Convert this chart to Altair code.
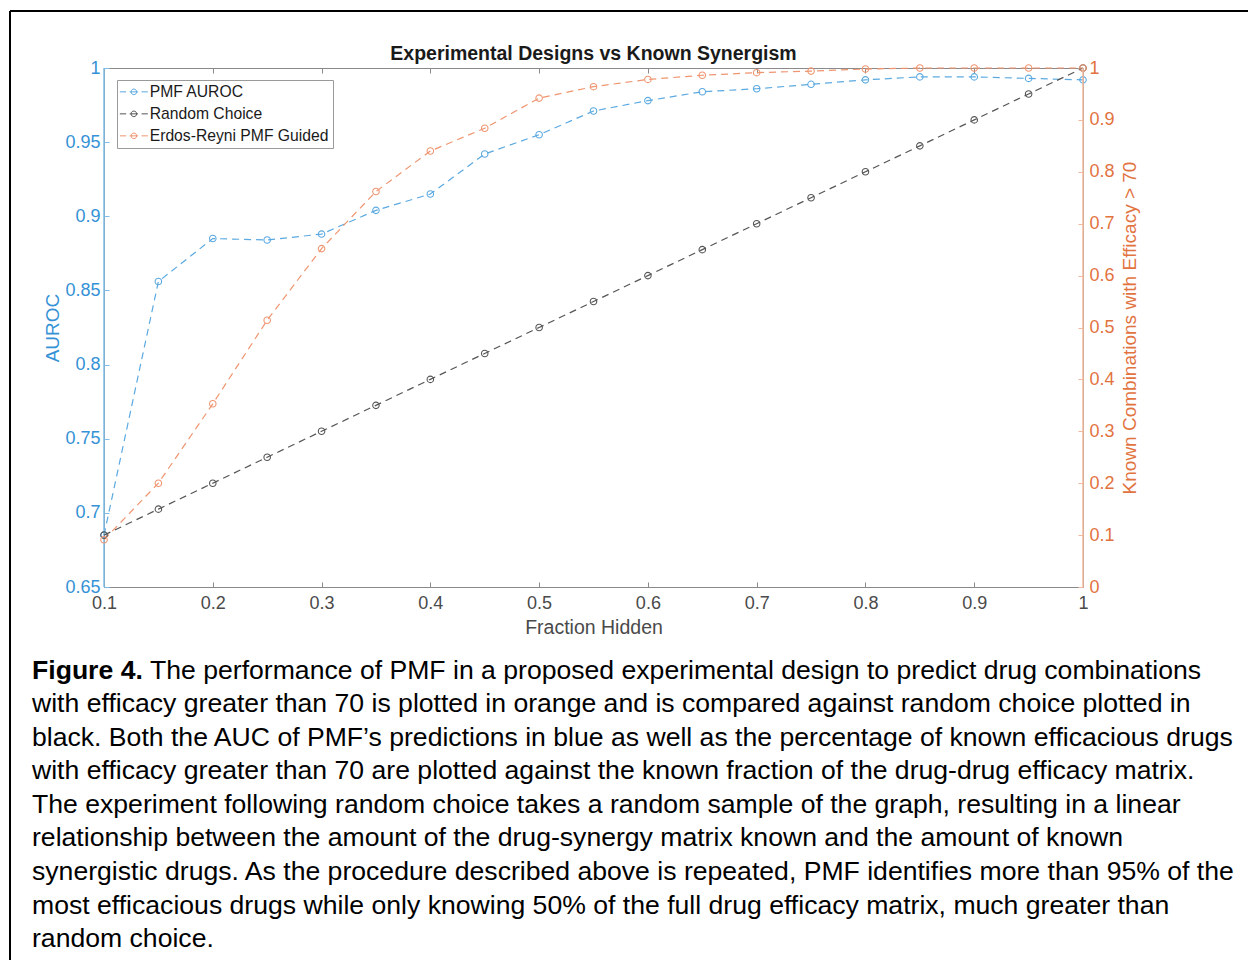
import altair as alt
import pandas as pd

# ---------------- data ----------------
fraction = [0.10, 0.15, 0.20, 0.25, 0.30, 0.35, 0.40, 0.45, 0.50, 0.55,
            0.60, 0.65, 0.70, 0.75, 0.80, 0.85, 0.90, 0.95, 1.00]
pmf_auroc = [0.685, 0.856, 0.885, 0.884, 0.888, 0.904, 0.915, 0.942, 0.955, 0.971,
             0.978, 0.984, 0.986, 0.989, 0.992, 0.994, 0.994, 0.993, 0.992]
random_choice = [0.100, 0.150, 0.200, 0.250, 0.300, 0.350, 0.400, 0.450, 0.500, 0.550,
                 0.600, 0.650, 0.700, 0.750, 0.800, 0.850, 0.900, 0.950, 1.000]
erdos_reyni = [0.091, 0.200, 0.353, 0.514, 0.652, 0.762, 0.840, 0.884, 0.942, 0.964,
               0.978, 0.986, 0.991, 0.994, 0.998, 1.000, 1.000, 1.000, 1.000]

series_names = ["PMF AUROC", "Random Choice", "Erdos-Reyni PMF Guided"]
series_colors = ["#5AA9E0", "#555555", "#EF9570"]

x_ticks = [0.1, 0.2, 0.3, 0.4, 0.5, 0.6, 0.7, 0.8, 0.9, 1.0]
left_ticks = [0.65, 0.7, 0.75, 0.8, 0.85, 0.9, 0.95, 1.0]
right_ticks = [0.0, 0.1, 0.2, 0.3, 0.4, 0.5, 0.6, 0.7, 0.8, 0.9, 1.0]

chart_title = "Experimental Designs vs Known Synergism"
x_title = "Fraction Hidden"
left_title = "AUROC"
right_title = "Known Combinations with Efficacy > 70"

caption_bold = "Figure 4."
caption_first = "The performance of PMF in a proposed experimental design to predict drug combinations"
caption_rest = [
    "with efficacy greater than 70 is plotted in orange and is compared against random choice plotted in",
    "black. Both the AUC of PMF\u2019s predictions in blue as well as the percentage of known efficacious drugs",
    "with efficacy greater than 70 are plotted against the known fraction of the drug-drug efficacy matrix.",
    "The experiment following random choice takes a random sample of the graph, resulting in a linear",
    "relationship between the amount of the drug-synergy matrix known and the amount of known",
    "synergistic drugs. As the procedure described above is repeated, PMF identifies more than 95% of the",
    "most efficacious drugs while only knowing 50% of the full drug efficacy matrix, much greater than",
    "random choice.",
]

# ---------------- styling ----------------
FONT = "Liberation Sans"
W, H = 979, 519
BLUE_TXT = "#3592D6"
BLUE_AX = "#7FBCE8"
ORANGE_TXT = "#E2733F"
ORANGE_AX = "#F5B89C"
GRAY_AX = "#8A8A8A"
CAP_SIZE = 26.6

left_df = pd.DataFrame({"fraction": fraction, "value": pmf_auroc, "series": series_names[0]})
right_df = pd.concat([
    pd.DataFrame({"fraction": fraction, "value": random_choice, "series": series_names[1]}),
    pd.DataFrame({"fraction": fraction, "value": erdos_reyni, "series": series_names[2]}),
], ignore_index=True)
one_row = pd.DataFrame({"k": [0]})

x_scale = alt.Scale(domain=[0.1, 1.0], nice=False, zero=False)

# dash - circle - dash legend glyph (extends beyond the nominal unit box)
legend_symbol = ("M-2,0L-1.1,0M-0.6,0L0.6,0M1.1,0L2,0"
                 "M0.4,0A0.4,0.4,0,1,1,-0.4,0A0.4,0.4,0,1,1,0.4,0Z")

color_enc = alt.Color(
    "series:N",
    scale=alt.Scale(domain=series_names, range=series_colors),
    legend=alt.Legend(
        title=None, orient="none", legendX=13, legendY=12, direction="vertical",
        symbolType=legend_symbol, symbolSize=196, symbolStrokeWidth=1,
        symbolOffset=5, symbolFillColor="transparent", labelFont=FONT,
        labelFontSize=15.7, labelColor="#1a1a1a", labelOffset=8, rowPadding=5,
        labelLimit=400, strokeColor="#9a9a9a", fillColor="white", padding=4,
    ),
)

x_bottom = alt.X(
    "fraction:Q", scale=x_scale,
    axis=alt.Axis(orient="bottom", values=x_ticks, format=".1~f", title=x_title,
                  offset=-5, tickSize=5, domain=False, grid=False,
                  tickColor=GRAY_AX, labelColor="#4a4a4a", titleColor="#4a4a4a",
                  labelFlush=False, labelPadding=7, titlePadding=6,
                  labelFontSize=18, titleFontSize=19.5, titleFontWeight="normal"),
)
x_top = alt.X(
    "fraction:Q", scale=x_scale,
    axis=alt.Axis(orient="top", values=x_ticks, labels=False, title=None,
                  offset=-5, tickSize=5, domain=False, grid=False, tickColor=GRAY_AX),
)

y_left = alt.Y(
    "value:Q", scale=alt.Scale(domain=[0.65, 1.0], nice=False, zero=False),
    axis=alt.Axis(orient="left", values=left_ticks, format=".2~f", title=left_title,
                  offset=-5, tickSize=5, domain=False, grid=False,
                  tickColor=BLUE_AX, labelColor=BLUE_TXT, titleColor=BLUE_TXT,
                  labelPadding=4, titlePadding=2, labelFontSize=18,
                  titleFontSize=19, titleFontWeight="normal"),
)
y_right = alt.Y(
    "value:Q", scale=alt.Scale(domain=[0.0, 1.0], nice=False, zero=False),
    axis=alt.Axis(orient="right", values=right_ticks, format=".1~f", title=right_title,
                  offset=-5, tickSize=5, domain=False, grid=False,
                  tickColor=ORANGE_AX, labelColor=ORANGE_TXT, titleColor=ORANGE_TXT,
                  labelPadding=6, titlePadding=6, labelFontSize=18,
                  titleFontSize=19, titleFontWeight="normal",
                  titleAngle=270, titleBaseline="top"),
)

line_kw = dict(strokeDash=[7, 5], strokeWidth=1.2)
pt_kw = dict(shape="circle", filled=False, size=42, strokeWidth=1.1, opacity=1)

left_base = alt.Chart(left_df)
left_layer = alt.layer(
    left_base.mark_line(**line_kw).encode(x=x_bottom, y=y_left, color=color_enc),
    left_base.mark_point(**pt_kw).encode(x="fraction:Q", y="value:Q", color=color_enc),
    alt.Chart(one_row).mark_rule(color=BLUE_AX, strokeWidth=1.5).encode(
        x=alt.datum(0.1), y=alt.datum(0.65), y2=alt.datum(1.0)),
)

right_base = alt.Chart(right_df)
right_layer = alt.layer(
    right_base.mark_line(**line_kw).encode(x=x_top, y=y_right, color=color_enc,
                                           detail="series:N"),
    right_base.mark_point(**pt_kw).encode(x="fraction:Q", y="value:Q", color=color_enc),
    alt.Chart(one_row).mark_rule(color=ORANGE_AX, strokeWidth=1.5).encode(
        x=alt.datum(1.0), y=alt.datum(0.0), y2=alt.datum(1.0)),
)

# decorations: chart title, figure frame and caption
deco = alt.layer(
    alt.Chart(one_row).mark_text(align="center", baseline="alphabetic", font=FONT,
                                 fontSize=19.5, fontWeight="bold", color="#1a1a1a").encode(
        x=alt.value(W / 2), y=alt.value(-8), text=alt.value(chart_title)),
    alt.Chart(one_row).mark_rule(color="black", strokeWidth=2).encode(
        x=alt.value(-94), x2=alt.value(1160), y=alt.value(-57)),
    alt.Chart(one_row).mark_rule(color="black", strokeWidth=2).encode(
        x=alt.value(-94), y=alt.value(-57), y2=alt.value(900)),
    alt.Chart(one_row).mark_text(align="left", baseline="alphabetic", font=FONT,
                                 fontSize=CAP_SIZE, fontWeight="bold", color="black").encode(
        x=alt.value(-72), y=alt.value(610.5), text=alt.value(caption_bold)),
    alt.Chart(one_row).mark_text(align="left", baseline="alphabetic", font=FONT,
                                 fontSize=CAP_SIZE, color="black").encode(
        x=alt.value(46), y=alt.value(610.5), text=alt.value(caption_first)),
    alt.Chart(one_row).mark_text(align="left", baseline="alphabetic", font=FONT,
                                 fontSize=CAP_SIZE, lineHeight=33.6, color="black").encode(
        x=alt.value(-72), y=alt.value(644.1), text=alt.value(caption_rest)),
)

chart = (
    alt.layer(left_layer, right_layer, deco)
    .resolve_scale(y="independent")
    .resolve_axis(x="independent", y="independent")
    .properties(
        width=W, height=H,
        autosize=alt.AutoSizeParams(type="none"),
        padding={"left": 104, "top": 68, "right": 165, "bottom": 373},
        background="white",
    )
    .configure_view(stroke=GRAY_AX, strokeWidth=1)
    .configure_axis(labelFont=FONT, titleFont=FONT)
)

chart.save("out.html", embed_options={"renderer": "svg", "actions": False})
